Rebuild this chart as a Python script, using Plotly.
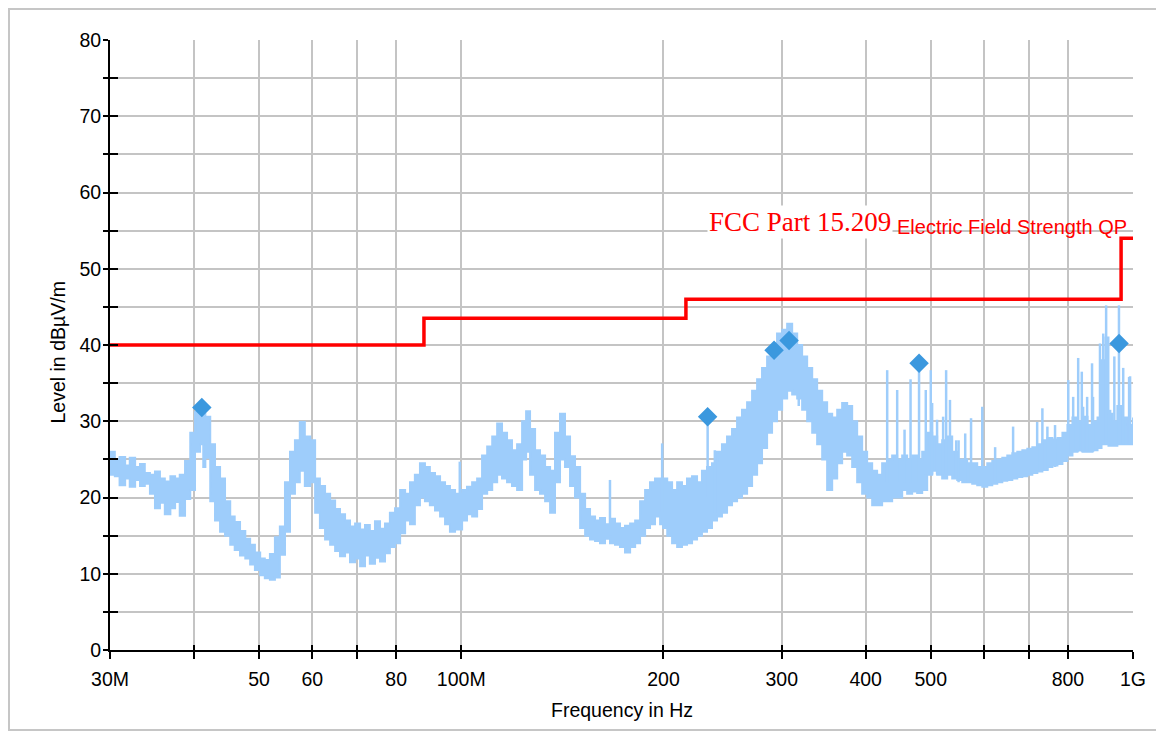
import plotly.graph_objects as go

# ---------------- data ----------------
freq_mhz = [30.0, 30.5, 31.0, 31.6, 32.1, 32.7, 33.25, 33.8, 34.4, 35.0, 35.6, 36.2, 36.9, 37.5, 38.1, 38.8,
            39.5, 40.15, 40.85, 41.3, 41.6, 42.3, 43.0, 43.75, 44.5, 45.3, 46.0, 46.85, 47.7, 48.5, 49.3,
            50.2, 51.0, 51.9, 52.8, 53.7, 54.65, 55.6, 56.55, 57.5, 58.5, 59.6, 60.6, 61.6, 62.7, 63.8,
            64.9, 66.0, 67.15, 68.3, 69.5, 70.7, 71.9, 73.1, 74.4, 75.7, 77.0, 78.3, 79.7, 81.1, 82.5,
            83.9, 85.3, 86.8, 88.3, 89.8, 91.4, 93.0, 94.6, 96.2, 97.9, 100.3, 102.0, 103.8, 105.6,
            107.4, 109.3, 111.2, 113.1, 115.0, 117.0, 119.0, 121.1, 123.2, 124.9, 126.6, 128.8, 131.0,
            133.3, 135.6, 137.9, 140.3, 142.7, 145.2, 147.7, 150.3, 152.9, 155.5, 158.2, 160.9, 163.7,
            166.5, 169.4, 172.3, 175.3, 178.4, 181.5, 184.6, 187.8, 191.0, 194.3, 197.7, 199.8, 202.6,
            206.0, 209.6, 213.1, 216.8, 220.6, 224.4, 228.2, 232.2, 236.2, 240.3, 244.4, 248.7, 253.0,
            257.4, 261.8, 266.4, 271.0, 275.7, 280.4, 285.3, 290.2, 295.2, 300.4, 305.6, 310.9, 316.3,
            321.7, 327.3, 333.0, 338.7, 344.6, 350.5, 356.6, 362.8, 369.0, 375.4, 381.9, 388.5, 395.2,
            402.0, 409.0, 416.0, 423.2, 430.6, 438.0, 445.6, 453.3, 461.1, 469.1, 477.2, 485.5, 493.9,
            502.4, 511.1, 519.9, 528.9, 538.1, 547.4, 556.9, 566.5, 576.3, 586.3, 596.5, 606.8, 617.3,
            628.0, 638.9, 649.9, 661.2, 672.6, 684.3, 696.1, 708.2, 720.5, 733.0, 745.7, 758.6, 771.8,
            785.1, 798.7, 812.6, 826.7, 841.0, 855.6, 870.4, 885.5, 897.7, 910.1, 919.4, 931.9, 947.8,
            964.1, 980.6, 1000.0]
level_hi = [26.0, 25.0, 25.3, 24.2, 25.2, 24.0, 24.4, 23.2, 23.0, 23.4, 22.5, 22.1, 22.8, 22.5, 23.0, 24.8,
            28.5, 31.2, 30.9, 31.0, 30.6, 27.0, 24.0, 22.5, 19.5, 17.5, 16.8, 15.6, 14.6, 13.8, 12.8,
            12.0, 11.8, 12.6, 14.8, 16.2, 22.0, 26.0, 27.5, 29.9, 28.0, 27.5, 22.5, 21.5, 20.5, 19.6,
            18.5, 17.8, 17.0, 16.2, 16.6, 15.8, 16.4, 15.6, 16.9, 15.9, 16.6, 18.0, 18.6, 21.0, 20.5,
            22.0, 23.0, 24.5, 24.0, 23.2, 22.8, 22.0, 21.5, 21.0, 20.5, 21.0, 21.4, 22.0, 22.5,
            25.5, 26.7, 28.0, 29.7, 28.5, 27.5, 26.2, 27.0, 30.0, 31.3, 29.0, 26.2, 25.5,
            24.0, 23.5, 28.5, 31.0, 28.0, 25.4, 24.0, 20.5, 18.5, 17.5, 17.0, 17.3, 16.5,
            17.2, 16.6, 16.0, 16.3, 16.6, 17.0, 19.5, 21.0, 22.0, 22.5, 21.5, 22.5, 22.0,
            21.0, 22.0, 21.5, 22.5, 22.8, 22.0, 23.5, 24.0, 24.5, 26.0, 27.0, 28.0, 29.0,
            30.5, 31.5, 32.5, 34.0, 35.5, 37.0, 38.5, 40.0, 41.5, 42.0, 42.8, 41.5, 40.0,
            38.5, 37.0, 35.5, 34.0, 32.5, 31.0, 30.5, 31.5, 32.4, 32.0, 30.0, 28.0, 26.0,
            24.5, 23.5, 23.0, 24.5, 25.0, 25.5, 25.0, 25.5, 25.0, 25.5, 25.0, 26.0, 28.5,
            28.0, 27.0, 27.5, 28.0, 26.0, 25.0, 25.0, 24.5, 24.5, 24.0, 24.0, 24.5, 24.8,
            25.0, 25.2, 25.5, 25.8, 26.0, 26.2, 26.4, 26.6, 27.0, 27.5, 27.8, 27.6, 27.8,
            28.5, 29.5, 30.5, 30.0, 30.6, 29.5, 30.0, 30.5, 38.0, 41.0, 31.0, 30.0, 32.0,
            30.5, 29.5, 30.5]
level_lo = [23.0, 22.8, 21.6, 22.5, 21.4, 22.3, 21.5, 21.8, 20.5, 18.6, 19.3, 17.8, 18.6, 19.4, 17.6, 19.8,
            21.0, 26.0, 27.0, 24.0, 25.2, 19.5, 17.0, 15.5, 15.0, 13.8, 13.1, 12.4, 12.0, 11.2, 10.5,
            9.8, 9.4, 9.2, 9.5, 12.5, 15.5, 20.5, 22.0, 23.5, 21.5, 22.0, 18.0, 16.0, 14.5, 13.8,
            13.0, 12.3, 12.8, 11.5, 12.0, 11.0, 12.4, 11.3, 12.1, 11.6, 12.7, 13.5, 14.0, 15.3, 17.0,
            16.5, 19.0, 20.0, 19.5, 19.0, 18.3, 17.5, 16.5, 15.5, 15.8, 17.0, 17.8, 17.5, 18.5,
            20.5, 21.0, 22.0, 23.0, 22.5, 22.0, 21.5, 21.0, 25.0, 26.0, 23.0, 21.0, 20.5,
            19.5, 18.0, 22.0, 25.0, 24.0, 21.5, 20.0, 16.0, 15.0, 14.5, 14.3, 14.0, 14.6,
            14.0, 13.8, 13.5, 12.8, 13.5, 14.0, 15.0, 16.0, 16.5, 17.5, 16.5, 16.0, 15.0,
            14.0, 13.5, 13.8, 14.0, 14.5, 15.0, 15.5, 16.0, 17.0, 17.5, 18.0, 19.0, 19.5,
            20.0, 20.5, 21.5, 23.0, 24.5, 26.5, 28.5, 30.0, 31.5, 33.0, 34.0, 33.5, 33.0,
            31.5, 30.0, 28.5, 27.0, 25.0, 21.0, 22.5, 24.5, 26.0, 25.5, 24.0, 22.0, 20.5,
            20.0, 19.0, 19.0, 19.5, 19.5, 20.0, 20.0, 21.0, 20.5, 20.8, 20.6, 21.0, 23.0,
            23.5, 23.0, 22.5, 23.0, 22.5, 22.3, 22.0, 22.0, 21.8, 21.6, 21.4, 21.6, 21.8,
            22.0, 22.2, 22.3, 22.5, 22.7, 22.8, 23.0, 23.2, 23.4, 23.6, 24.0, 24.2, 24.4,
            24.8, 25.5, 26.0, 26.2, 26.0, 26.0, 26.2, 26.5, 27.0, 27.0, 26.8, 26.8, 27.0,
            27.0, 27.0, 27.2]

spike_mhz = [99.5, 166.5, 199.1, 232.7, 238.5, 318.0, 430.6, 445.6, 457.0, 466.5, 480.3, 491.5, 500.0,
             502.3, 510.9, 521.6, 527.0, 534.0, 545.5, 550.0, 562.6, 574.0, 596.5, 623.4, 663.0, 720.0,
             733.0, 745.7, 765.5, 801.0, 814.6, 828.7, 839.0, 842.8, 854.5, 869.0, 872.0, 893.0, 903.0,
             912.0, 924.5, 938.0, 953.0, 967.0, 986.7, 990.0]
spike_top = [24.7, 22.3, 27.1, 30.6, 26.2, 38.5, 36.7, 34.1, 28.9, 35.5, 37.2, 34.1, 36.7,
             32.4, 30.2, 30.6, 36.7, 32.8, 27.5, 27.5, 28.4, 30.4, 31.9, 26.6, 29.3, 29.9,
             31.7, 29.3, 29.5, 35.4, 33.2, 38.3, 36.5, 31.9, 33.2, 37.6, 33.2, 40.2, 41.5,
             45.2, 31.5, 38.5, 45.2, 37.0, 35.8, 35.9]
spike_base = [18.0, 15.0, 18.0, 20.0, 18.0, 32.0, 22.0, 22.0, 22.0, 22.0, 22.0, 23.0, 23.0,
              23.0, 23.0, 23.0, 23.0, 23.0, 22.5, 22.0, 22.0, 22.0, 22.0, 22.0, 23.0, 23.5,
              23.5, 23.5, 24.0, 25.5, 26.0, 26.0, 26.0, 26.0, 26.0, 26.0, 26.0, 26.5, 27.0,
              27.0, 27.0, 27.0, 27.0, 27.0, 27.0, 27.0]

peak_mhz = [41.1, 232.7, 292.2, 307.6, 480.3, 953.4]
peak_level = [31.8, 30.6, 39.3, 40.6, 37.6, 40.2]

limit_mhz = [30, 88, 216, 960, 1000]
limit_level = [40, 43.5, 46, 54, 54]

x_tick_mhz = [30, 40, 50, 60, 70, 80, 100, 200, 300, 400, 500, 600, 700, 800, 1000]
x_tick_text = ["30M", "", "50", "60", "", "80", "100M", "200", "300", "400", "500", "", "", "800", "1G"]
y_tick_vals = list(range(0, 81, 5))
y_tick_text = [str(v) if v % 10 == 0 else "" for v in y_tick_vals]

# ---------------- figure ----------------
MHZ = 1e6
SPEC = "#9ecdfb"
SANS = "Liberation Sans, Arial, sans-serif"
FS = 19.5


def hz(vals):
    return [v * MHZ for v in vals]


fig = go.Figure()

# noise band of the spectrum
fig.add_trace(go.Scatter(x=hz(freq_mhz), y=level_lo, mode="lines", line_shape="hv",
                         line=dict(color=SPEC, width=2), hoverinfo="skip", showlegend=False))
fig.add_trace(go.Scatter(x=hz(freq_mhz), y=level_hi, mode="lines", line_shape="hv",
                         fill="tonexty", fillcolor=SPEC,
                         line=dict(color=SPEC, width=2), hoverinfo="skip", showlegend=False))

# narrow spikes
sx, sy = [], []
for f, b, t in zip(spike_mhz, spike_base, spike_top):
    sx += [f * MHZ, f * MHZ, None]
    sy += [b, t, None]
fig.add_trace(go.Scatter(x=sx, y=sy, mode="lines", line=dict(color=SPEC, width=2.5),
                         hoverinfo="skip", showlegend=False))

# limit line
fig.add_trace(go.Scatter(x=hz(limit_mhz), y=limit_level, mode="lines", line_shape="hv",
                         line=dict(color="#ff0000", width=3.5), showlegend=False))

# final peaks (on overlaid axes that also carry the inner tick halves)
fig.add_trace(go.Scatter(x=hz(peak_mhz), y=peak_level, mode="markers", xaxis="x2", yaxis="y2",
                         marker=dict(symbol="diamond", size=15, color="#3b98de", line=dict(width=0)),
                         showlegend=False))

xr = [7.4771212547, 9.0]
common_x = dict(type="log", range=xr, tickvals=hz(x_tick_mhz), tickwidth=2, tickcolor="black",
                automargin=False)
common_y = dict(range=[0, 80], tickvals=y_tick_vals, tickwidth=2, tickcolor="black", automargin=False)

# the page places the figure 8 px from the top-left corner
W, H = 1156, 724
ML, MR, MT, MB = 102, 31, 32, 82
PW, PH = W - ML - MR, H - MT - MB


def px(page_x):
    return (page_x - 8 - ML) / PW


def py(page_y):
    return (H - MB - (page_y - 8)) / PH


fig.update_layout(
    width=W, height=H,
    margin=dict(l=ML, r=MR, t=MT, b=MB),
    paper_bgcolor="white", plot_bgcolor="white",
    font=dict(family=SANS, size=FS, color="black"),
    xaxis=dict(**common_x, ticktext=x_tick_text, ticks="outside", ticklen=7, tickangle=0,
               showgrid=True, gridcolor="#c4c4c4", gridwidth=2,
               showline=True, linecolor="black", linewidth=2, zeroline=False,
               ticklabelstandoff=4, tickfont=dict(size=FS)),
    yaxis=dict(**common_y, ticktext=y_tick_text, ticks="outside", ticklen=5,
               showgrid=True, gridcolor="#c4c4c4", gridwidth=2,
               showline=True, linecolor="black", linewidth=2, zeroline=False,
               ticklabelstandoff=-2, tickfont=dict(size=FS)),
    xaxis2=dict(**common_x, overlaying="x", anchor="y2", side="bottom", ticks="inside", ticklen=5,
                showticklabels=False, showgrid=False, showline=False, zeroline=False),
    yaxis2=dict(**common_y, overlaying="y", anchor="x2", side="left", ticks="inside", ticklen=8,
                showticklabels=False, showgrid=False, showline=False, zeroline=False),
    shapes=[dict(type="rect", xref="paper", yref="paper",
                 x0=px(9), x1=px(1161), y0=py(730), y1=py(9),
                 line=dict(color="#c6c6c6", width=2), layer="below")],
    annotations=[
        dict(text="Level in dBµV/m", xref="paper", yref="paper", x=px(57.5),
             y=py(353), textangle=-90, showarrow=False, xanchor="center", yanchor="middle",
             font=dict(family=SANS, size=FS)),
        dict(text="Frequency in Hz", xref="paper", yref="paper", x=px(622),
             y=py(710), showarrow=False, xanchor="center", yanchor="middle",
             font=dict(family=SANS, size=FS)),
        dict(text="FCC Part 15.209", xref="paper", yref="paper", x=px(707),
             y=py(239), showarrow=False, xanchor="left", yanchor="bottom",
             bgcolor="white", borderpad=1,
             font=dict(family="Liberation Serif, Times New Roman, serif", size=27, color="#ff0000")),
        dict(text="Electric Field Strength QP", xref="paper", yref="paper", x=px(895),
             y=py(240), showarrow=False, xanchor="left", yanchor="bottom",
             font=dict(family=SANS, size=20, color="#ff0000")),
    ],
)

fig.write_html("out.html")
